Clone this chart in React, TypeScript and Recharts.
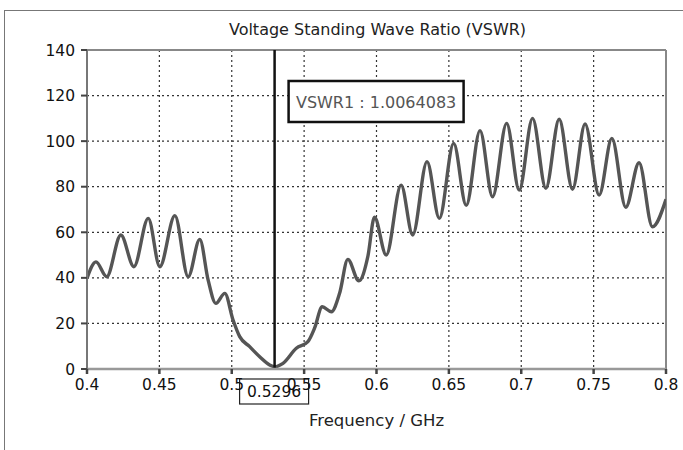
import React from 'react';
import { LineChart, Line, XAxis, YAxis, CartesianGrid, ReferenceLine } from 'recharts';

const freqGHz = [
  0.4, 0.4062, 0.4136, 0.4234, 0.4324, 0.4423, 0.4503, 0.4607, 0.4699, 0.4779,
  0.4837, 0.489, 0.4952, 0.5009, 0.5055, 0.5124, 0.5193, 0.5262, 0.5296, 0.5354,
  0.5446, 0.5526, 0.5572, 0.5625, 0.5688, 0.5745, 0.5802, 0.5878, 0.594, 0.5986,
  0.6067, 0.617, 0.625, 0.6349, 0.6434, 0.6533, 0.662, 0.6715, 0.6802, 0.6899,
  0.6986, 0.7078, 0.717, 0.7262, 0.7354, 0.7441, 0.7538, 0.7626, 0.7722, 0.7814,
  0.7906, 0.8,
];
const vswr = [
  39.8, 47, 40.5, 58.8, 44.9, 66.1, 44.9, 67.3, 40.5, 56.9,
  39, 28.8, 33.2, 21.5, 14.2, 9.8, 5.4, 1.8, 1.0064083, 2.5,
  9.1, 12, 17.9, 27.3, 25.1, 33.2, 48.1, 38.7, 49.3, 66.6,
  50, 80.7, 58.8, 91, 66.1, 99, 71.8, 104.6, 75.6, 107.8,
  78.5, 110, 79.3, 109.6, 78.9, 107.5, 76.3, 101.2, 71, 90.5,
  62.4, 74.5,
];
const xTicks = [0.4, 0.45, 0.5, 0.55, 0.6, 0.65, 0.7, 0.75, 0.8];
const yTicks = [0, 20, 40, 60, 80, 100, 120, 140];
const markerFreq = 0.5296;
const markerLabel = '0.5296';
const markerValueText = 'VSWR1 : 1.0064083';
const title = 'Voltage Standing Wave Ratio (VSWR)';
const xLabel = 'Frequency / GHz';

const data = freqGHz.map((f, i) => ({ f, v: vswr[i] }));

const FONT = 'DejaVu Sans, Verdana, sans-serif';

const MarkerLabel = (props: any) => {
  const vb = props.viewBox || {};
  const x = vb.x;
  const top = vb.y;
  const bottom = vb.y + vb.height;
  return (
    <g>
      <rect x={x - 35} y={bottom + 10} width={69} height={25} fill="#fff" stroke="#222" strokeWidth={1.2} />
      <text x={x - 0.5} y={bottom + 28} textAnchor="middle" fontFamily={FONT} fontSize={15.5} fill="#111">
        {markerLabel}
      </text>
      <rect x={x + 14} y={top + 31} width={175} height={41} fill="#fff" stroke="#111" strokeWidth={2.5} />
      <text x={x + 101.5} y={top + 58} textAnchor="middle" fontFamily={FONT} fontSize={16} fill="#555">
        {markerValueText}
      </text>
    </g>
  );
};

export default function App() {
  return (
    <div style={{ position: 'absolute', left: 0, top: 0, width: 683, height: 450, background: '#fff', overflow: 'hidden' }}>
      <div style={{ position: 'absolute', left: 4, top: 10, width: 700, height: 460, border: '1.5px solid #777', boxSizing: 'border-box' }} />
      <div style={{ position: 'absolute', left: 0, width: 683, top: 20, textAlign: 'center', paddingLeft: 72, boxSizing: 'border-box', fontFamily: FONT, fontSize: 16, color: '#222' }}>
        {title}
      </div>
      <div style={{ position: 'absolute', left: 0, top: 0 }}>
        <LineChart width={683} height={450} data={data} margin={{ top: 50, right: 17, left: 0, bottom: 51 }}>
          <CartesianGrid stroke="#333" strokeDasharray="2 3" strokeWidth={1.2} />
          <XAxis
            dataKey="f"
            type="number"
            domain={[0.4, 0.8]}
            ticks={xTicks}
            tickFormatter={(v: number) => String(+v.toFixed(2))}
            stroke="#999"
            strokeWidth={2.5}
            tickSize={5}
            tick={{ fill: '#111', fontSize: 15.5, fontFamily: FONT, dy: 3 }}
            tickLine={{ stroke: '#444' }}
            height={30}
            label={{ value: xLabel, position: 'insideBottom', offset: -27, fill: '#222', fontSize: 16.5, fontFamily: FONT }}
            allowDataOverflow
          />
          <YAxis
            type="number"
            domain={[0, 140]}
            ticks={yTicks}
            stroke="#777"
            strokeWidth={2}
            tickSize={6}
            width={87}
            tick={{ fill: '#111', fontSize: 15.5, fontFamily: FONT, dx: -4 }}
            tickLine={{ stroke: '#444' }}
          />
          <ReferenceLine y={140} stroke="#888" strokeWidth={2} />
          <ReferenceLine x={0.8} stroke="#888" strokeWidth={2} />
          <Line
            type="monotone"
            dataKey="v"
            stroke="#555"
            strokeWidth={3.4}
            dot={false}
            isAnimationActive={false}
          />
          <ReferenceLine x={markerFreq} stroke="#111" strokeWidth={2.5} label={<MarkerLabel />} />
        </LineChart>
      </div>
    </div>
  );
}
